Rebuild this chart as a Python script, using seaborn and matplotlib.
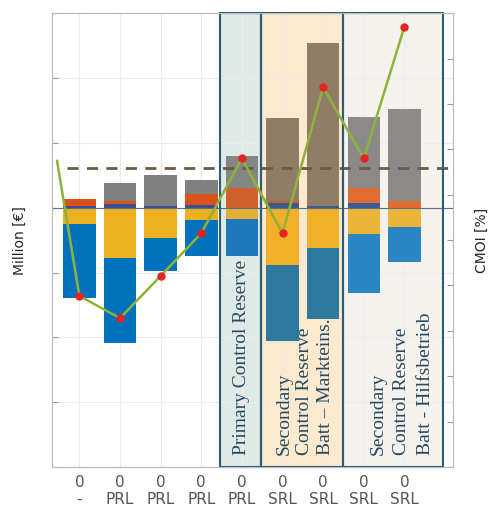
import numpy as np
import seaborn as sns
from matplotlib import pyplot as plt
from matplotlib.patches import Rectangle

sns.set_style("whitegrid")

# bar positions and two-line x labels
positions = [1, 2, 3, 4, 5, 6, 7, 8, 9]
labels_top = ["0"] * 9
labels_bottom = ["-", "PRL", "PRL", "PRL", "PRL", "SRL", "SRL", "SRL", "SRL"]

# positive stack (Million EUR)
pos_purple = [0.03, 0.05, 0.02, 0.04, 0.00, 0.08, 0.03, 0.07, 0.00]
pos_red = [0.10, 0.05, 0.00, 0.17, 0.30, 0.03, 0.00, 0.23, 0.11]
pos_gray = [0.00, 0.28, 0.48, 0.21, 0.50, 1.28, 2.51, 1.10, 1.41]
# negative stack
neg_yellow = [-0.25, -0.77, -0.46, -0.19, -0.17, -0.89, -0.62, -0.40, -0.29]
neg_blue = [-1.15, -1.32, -0.52, -0.55, -0.57, -1.17, -1.09, -0.92, -0.55]

# CMOI line (right axis), first point is the lead-in from the left edge
cmoi_x = [0.45, 1, 2, 3, 4, 5, 6, 7, 8, 9]
cmoi = [6.75, 3.77, 3.28, 4.21, 5.15, 6.80, 5.15, 8.37, 6.80, 9.70]

reference_level = 0.62

# which shaded group each bar sits in (0 = none)
bar_group = [0, 0, 0, 0, 1, 2, 2, 3, 3]

# shaded groups: start, end, background, text, text x, line spacing
groups = [
    (4.47, 5.48, "#dfe9e6", "Primary Control Reserve", 5.0, 1.0),
    (5.48, 7.50, "#fde9cd", "Secondary\nControl Reserve\nBatt \u2013 Markteins.", 6.55, 1.3),
    (7.50, 9.95, "#f5f1ec", "Secondary\nControl Reserve\nBatt - Hilfsbetrieb", 8.93, 1.5),
]

# segment colours per group (plain, green box, orange box, beige box)
pal = {
    "blue": ["#0072BD", "#1c78b8", "#2e7a9e", "#2a85c5"],
    "red": ["#D95319", "#d0602c", "#c8602c", "#e06c32"],
    "yellow": ["#EDB120", "#e3b035", "#f0b02a", "#edb43a"],
    "purple": ["#3a4f9a", "#3a4f9a", "#3d5a8a", "#3a5a9a"],
    "gray": ["#808080", "#838684", "#917c66", "#8c8a88"],
}

fig = plt.figure(figsize=(4.92, 5.09), dpi=100)
ax = fig.add_axes([0.106, 0.0825, 0.815, 0.8915])

for x0, x1, col, txt, tx, ls in groups:
    ax.add_patch(Rectangle((x0, -4), x1 - x0, 7, facecolor=col, edgecolor="none", zorder=0.3))

w = 0.8
b = np.zeros(9)
for vals, name in [(pos_purple, "purple"), (pos_red, "red"), (pos_gray, "gray")]:
    ax.bar(positions, vals, w, bottom=b, color=[pal[name][g] for g in bar_group],
           edgecolor="none", linewidth=0, zorder=2)
    b = b + np.array(vals)
b = np.zeros(9)
for vals, name in [(neg_yellow, "yellow"), (neg_blue, "blue")]:
    ax.bar(positions, vals, w, bottom=b, color=[pal[name][g] for g in bar_group],
           edgecolor="none", linewidth=0, zorder=2)
    b = b + np.array(vals)

ax.axhline(0, color="#56708a", lw=0.8, zorder=3)
ax.plot([0.7, 10.2], [reference_level] * 2, ls=(0, (4, 3)), color="#6b5a45", lw=2, zorder=3)

for x0, x1, col, txt, tx, ls in groups:
    ax.add_patch(Rectangle((x0, -4), x1 - x0, 7, facecolor="none",
                           edgecolor="#2b5d78", lw=1.5, zorder=6, clip_on=False))
    ax.text(tx, -3.82, txt, rotation=90, ha="center", va="bottom",
            multialignment="left", family=["Liberation Serif", "DejaVu Serif"],
            fontsize=14, color="#244a60", zorder=7, linespacing=ls)

ax.set_xlim(0.33, 10.2)
ax.set_ylim(-4, 3)
ax.set_yticks(np.arange(-4, 4, 1))
ax.set_yticklabels([])
ax.set_xticks(positions)
ax.set_xticklabels([f"{a}\n{c}" for a, c in zip(labels_top, labels_bottom)],
                   color="#555555", fontsize=11, linespacing=1.1)
ax.tick_params(axis="both", direction="in", length=4, color="#999999")
ax.tick_params(axis="x", pad=6)
ax.grid(color="#ebebeb", lw=0.8)
ax.set_axisbelow(True)
ax.set_ylabel("Million [\u20ac]", fontsize=10, labelpad=15)
for s in ax.spines.values():
    s.set_color("#bbbbbb")

ax2 = ax.twinx()
ax2.set_ylim(0, 10)
ax2.set_yticks(np.arange(0, 11, 1))
ax2.set_yticklabels([])
ax2.grid(False)
ax2.tick_params(axis="y", direction="in", length=4, color="#999999")
sns.lineplot(x=cmoi_x, y=cmoi, ax=ax2, color="#8db33a", lw=1.8, zorder=8)
ax2.plot(cmoi_x[1:], cmoi[1:], ls="none", marker="o", ms=5, color="#e8231f", zorder=9)
ax2.set_ylabel("CMOI [%]", fontsize=10, labelpad=12, rotation=90)
for s in ax2.spines.values():
    s.set_color("#bbbbbb")

plt.savefig("out.png", dpi=100)
